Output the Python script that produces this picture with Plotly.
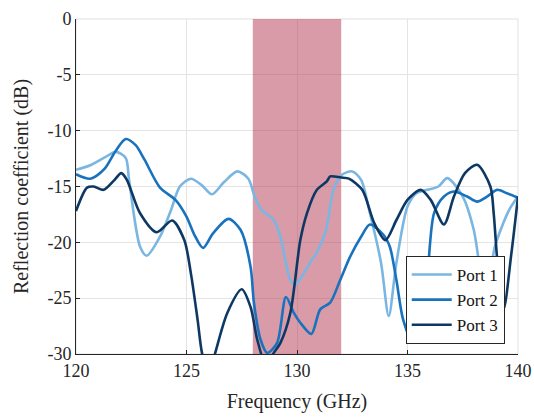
import plotly.graph_objects as go

# Port 1 (light blue)
p1_freq = [120, 120.65, 121.3, 121.8, 122.25, 122.4, 122.9, 123.2, 123.8, 124.3, 124.7, 125.2, 125.7,
           126.15, 126.7, 127.3, 127.8, 128.1, 128.4, 128.95, 129.25, 129.7, 129.93, 130.3, 130.6, 130.9,
           131.3, 131.65, 132.0, 132.5, 132.9, 133.3, 133.8, 134.15, 134.5, 135.0, 135.4, 135.9, 136.4,
           136.8, 137.5, 138.0, 138.3, 138.6, 138.95, 139.6, 140]
p1_db = [-13.5, -13.1, -12.4, -11.9, -12.45, -14.4, -20.4, -21.2, -19.5, -17.1, -15.0, -14.3, -14.9,
         -15.7, -14.6, -13.65, -14.3, -16.0, -17.1, -18.0, -19.5, -23.4, -23.8, -22.8, -21.8, -20.9,
         -19.0, -15.3, -14.0, -13.65, -14.4, -17.4, -21.8, -26.6, -21.8, -16.8, -15.6, -15.3, -15.0,
         -14.25, -15.9, -18.9, -22.5, -24.5, -20.4, -17.1, -15.9]

# Port 2 (medium blue)
p2_freq = [120, 120.65, 121.3, 121.8, 122.25, 122.7, 123.1, 123.8, 124.5, 125.0, 125.35, 125.75, 126.2,
           126.9, 127.45, 127.9, 128.05, 128.35, 128.65, 129.1, 129.5, 129.85, 130.15, 130.65, 131.05,
           131.5, 131.95, 132.4, 132.9, 133.3, 133.9, 134.2, 134.5, 134.8, 135.2, 135.6, 135.9, 136.2,
           136.65, 137.1, 137.7, 138.15, 138.6, 139.05, 139.5, 140]
p2_db = [-13.9, -14.3, -13.4, -11.8, -10.75, -11.3, -12.6, -15.1, -16.2, -17.7, -19.3, -20.5, -19.2,
         -17.9, -18.9, -22.2, -25.4, -28.7, -29.9, -29.0, -24.9, -26.3, -27.2, -28.2, -26.0,
         -25.4, -23.4, -21.3, -19.5, -18.4, -19.3, -20.4, -23.4, -26.9, -28.8, -26.0, -22.8, -17.4,
         -15.9, -15.45, -15.9, -16.35, -15.9, -15.3, -15.6, -16.0]

# Port 3 (dark blue)
p3_freq = [120, 120.5, 120.8, 121.25, 121.7, 122.05, 122.3, 122.9, 123.65, 124.35, 124.9, 125.2, 125.5,
           125.7, 126.0, 126.3, 126.85, 127.5, 127.9, 128.2, 128.6, 128.95, 129.25, 129.7, 130.15, 130.45,
           130.9, 131.35, 131.5, 132.0, 132.35, 132.95, 133.5, 134.0, 134.5, 135.0, 135.6, 136.05, 136.65,
           137.1, 137.6, 138.15, 138.75, 138.9, 139.1, 139.35, 139.7, 140]
p3_db = [-17.2, -15.1, -15.0, -15.3, -14.5, -13.8, -14.4, -17.4, -19.1, -18.05, -19.8, -22.8, -26.9,
         -29.9, -32.0, -29.9, -26.3, -24.2, -25.8, -28.7, -31.0, -29.9, -29.0, -26.3, -19.8, -17.4,
         -15.3, -14.55, -14.1, -14.2, -14.3, -15.3, -18.3, -19.8, -18.0, -16.2, -15.3, -16.2, -18.4,
         -15.9, -13.8, -13.05, -15.0, -17.4, -22.5, -26.0, -21.0, -15.9]

series_names = ["Port 1", "Port 2", "Port 3"]
series_colors = ["rgb(122,182,226)", "rgb(24,114,190)", "rgb(14,56,100)"]

band = [128, 132]
y_range = [-30, 0]

x_ticks = [120, 125, 130, 135, 140]
x_ticklabels = ["120", "125", "130", "135", "140"]
y_ticks = [0, -5, -10, -15, -20, -25, -30]
y_ticklabels = ["0", "-5", "-10", "-15", "-20", "-25", "-30"]

font_family = "Liberation Serif"
txt = "rgb(38,38,38)"

fig = go.Figure()
# shaded band as a filled trace (above gridlines, below curves)
fig.add_trace(go.Scatter(x=[band[0], band[0], band[1], band[1]],
                         y=[y_range[0], y_range[1], y_range[1], y_range[0]],
                         fill="toself", fillcolor="rgba(179,55,79,0.5)", mode="none",
                         showlegend=False, hoverinfo="skip"))
for fx, fy, name, col in zip([p1_freq, p2_freq, p3_freq], [p1_db, p2_db, p3_db], series_names, series_colors):
    fig.add_trace(go.Scatter(x=fx, y=fy, mode="lines", name=name,
                             line=dict(color=col, width=2.6, shape="spline", smoothing=0.8)))

# light box border (top/right)
fig.add_shape(type="rect", xref="paper", yref="paper", x0=0, x1=1, y0=0, y1=1,
              line=dict(color="rgb(225,225,225)", width=1), layer="below")

fig.update_layout(
    width=534, height=417,
    margin=dict(l=75.5, r=16.3, t=19.3, b=63, autoexpand=False),
    paper_bgcolor="white", plot_bgcolor="white",
    font=dict(family=font_family, size=17, color=txt),
    showlegend=True,
    legend=dict(x=0.746, y=0.03, xanchor="left", yanchor="bottom",
                bgcolor="white", bordercolor=txt, borderwidth=1,
                font=dict(family=font_family, size=17, color="rgb(20,20,20)"),
                tracegroupgap=0, itemwidth=40),
)
fig.update_xaxes(range=[120, 140], tickvals=x_ticks, ticktext=x_ticklabels, automargin=False,
                 tickfont=dict(family=font_family, size=18, color=txt),
                 showgrid=True, gridcolor="rgb(228,228,228)", gridwidth=1,
                 showline=True, linecolor=txt, linewidth=1,
                 ticks="inside", ticklen=4, tickcolor=txt,
                 zeroline=False,
                 title=dict(text="Frequency (GHz)", font=dict(family=font_family, size=20, color=txt), standoff=14))
fig.update_yaxes(range=y_range, tickvals=y_ticks, ticktext=y_ticklabels, automargin=False,
                 tickfont=dict(family=font_family, size=18, color=txt),
                 showgrid=True, gridcolor="rgb(228,228,228)", gridwidth=1,
                 showline=True, linecolor=txt, linewidth=1,
                 ticks="inside", ticklen=4, tickcolor=txt,
                 zeroline=False,
                 title=dict(text="Reflection coefficient (dB)", font=dict(family=font_family, size=20, color=txt), standoff=13))

fig.write_html("out.html", config={"displayModeBar": False},
               post_script="document.body.style.margin='0';")
